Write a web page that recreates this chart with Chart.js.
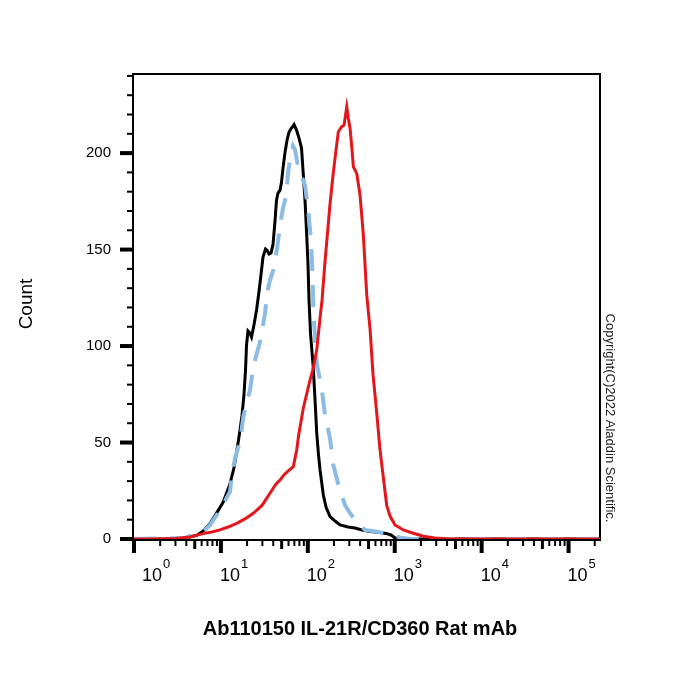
<!DOCTYPE html>
<html><head><meta charset="utf-8">
<script src="https://cdn.jsdelivr.net/npm/chart.js@4.4.1/dist/chart.umd.min.js"></script>
<style>html,body{margin:0;padding:0;background:#fff;}canvas{display:block;}</style>
</head><body>
<canvas id="c" width="700" height="700"></canvas>
<script>
// ---- data (fluorescence intensity, count) ----
const stainedCurve = [[1,0],[2,0],[3,0.3],[4.4,1],[6.2,2.8],[7.9,3.6],[9.75,4.7],[12.1,6.2],[15.2,8.1],[18.9,10.4],[23.6,13.3],[29.7,17.4],[36.7,23.7],[43.1,28.5],[47.9,30.6],[53.2,33.2],[59.2,35.2],[68.1,37.5],[74.5,46.1],[78.2,53.4],[88.8,67.9],[106,82.4],[115.6,88.6],[126.6,97.9],[138.2,114.5],[145.7,123.8],[157.7,143.8],[180,173.6],[195,188.6],[205.6,197.4],[224.4,211.1],[245.5,213.7],[261,214.5],[271.6,219.7],[280.5,224],[292.6,218.1],[306.1,212.8],[322.8,201.6],[334.2,192.9],[365.6,189.5],[399,178.2],[435.5,157.5],[476.4,126.4],[520.3,108.8],[562.3,85.5],[620.8,65.3],[677.4,46.1],[733.4,33.2],[808.3,17.4],[883,11.9],[1007,7.3],[1256,4.7],[1637,3],[2133,1.4],[2911,0.5],[4325,0],[230000,0]];
const isotypeCurve = [[1,0],[3.86,0.5],[4.41,1.55],[5.31,2.33],[6.22,3.78],[7.49,7.25],[9.26,13.5],[10.86,18.7],[12.7,24.5],[13.42,33.2],[14.53,42],[16.6,50.4],[18.1,63.4],[19.8,70.5],[21.6,77.2],[23.6,89.3],[25.8,95.9],[28.2,102.2],[30.5,110.9],[32.2,116.9],[34.2,128.1],[36.7,134.2],[40.1,139.4],[44.6,151.5],[47.9,162.7],[51.8,171.5],[56.1,177.4],[59.7,191.2],[62.4,196.4],[67.6,203.6],[71.3,201.6],[77.8,192.1],[84.6,188.1],[92.8,183.4],[101.4,169.6],[107.4,157.5],[111.7,143.5],[114.7,129],[116.3,116.1],[121.1,104.8],[126.6,91],[144.5,78.1],[157.7,64.2],[180,52.2],[196.5,38.3],[230.1,26.3],[268,17.6],[306.1,13.3],[368.3,8.8],[455,4.7],[620.8,3.8],[883,2.1],[1151,0.8],[1500,0],[230000,0]];
const blankCurve = [[1,0],[3.4,0],[4.4,1],[5.3,2],[6.2,4],[7.5,8],[8.8,13],[10.6,19],[12.7,28.5],[14.2,37.3],[15.3,46.1],[16.6,56.5],[17.5,64.2],[18.4,74.6],[19.2,87.6],[19.7,100.5],[20.5,107.8],[21.6,106.7],[22.5,104.7],[24,110.9],[25.7,118.7],[27.4,128],[28.9,136.8],[30.5,146.1],[32.6,150.3],[33.9,149.7],[35.8,147.7],[37.7,148.2],[39.8,152.8],[42,165.3],[43.6,175.6],[45.4,179.3],[47.9,180.8],[49.8,185],[51.8,192.2],[54.7,200.5],[57.6,206.7],[60.8,210.9],[64.9,213],[69.4,214.8],[74.1,211.9],[79.2,207.8],[84.6,202.6],[88.8,188.6],[92.8,175.6],[97.1,157.5],[100.5,142],[103.2,123.8],[107.4,106.5],[115.6,88.6],[121.1,72],[126.6,54.9],[132.8,43.5],[138.2,35.8],[150.8,22.8],[161.9,16.6],[180,11.6],[205.6,9.3],[234.8,7.3],[290,6.2],[349,5.7],[421,4.7],[520,3.9],[677,3.4],[794,2.9],[906,2.1],[1007,0.5],[1150,0],[230000,0]];

const yTicks = [0,10,20,30,40,50,60,70,80,90,100,110,120,130,140,150,160,170,180,190,200,210,220,230,240];
const yTickLabels = ['0','50','100','150','200'];
const yLabelValues = [0,50,100,150,200];
const xDecades = [0,1,2,3,4,5];
const xMin = 1, xMax = 230000, yMin = 0, yMax = 241;
const xTitle = 'Ab110150 IL-21R/CD360 Rat mAb';
const yTitle = 'Count';
const copyrightText = 'Copyright(C)2022 Aladdin Scientific.';

const toPts = arr => arr.map(p => ({x:p[0], y:p[1]}));

const FONT = '"Liberation Sans", Arial, Helvetica, sans-serif';

const flowAxes = {
  id:'flowAxes',
  beforeDatasetsDraw(chart){
    const {ctx, chartArea:a} = chart;
    ctx.save();
    ctx.strokeStyle = '#000';
    ctx.lineWidth = 2;
    ctx.strokeRect(a.left-1, a.top, a.right-a.left+1, a.bottom-a.top+1);
    ctx.restore();
  },
  afterDraw(chart){
    const {ctx, chartArea:a, scales} = chart;
    const xs = scales.x, ys = scales.y;
    ctx.save();
    ctx.fillStyle = '#000';
    // y ticks
    yTicks.forEach(v => {
      const py = ys.getPixelForValue(v);
      const major = v % 50 === 0;
      const len = major ? 13 : 6, w = major ? 4 : 2;
      ctx.fillRect(a.left-1-len, py - w/2, len, w);
    });
    ctx.font = '15px ' + FONT;
    ctx.textAlign = 'right';
    ctx.textBaseline = 'middle';
    yLabelValues.forEach((v,i) => {
      ctx.fillText(yTickLabels[i], 111, ys.getPixelForValue(v));
    });
    // x ticks
    const base = a.bottom + 1;
    xDecades.forEach(n => {
      for (let k=1;k<=9;k++){
        const v = k*Math.pow(10,n);
        if (v > xMax) break;
        const px = xs.getPixelForValue(v);
        let len = 6, w = 2;
        if (k===1){ len = 13; w = 4; }
        else if (k===5){ len = 9; w = 3; }
        ctx.fillRect(px - w/2, base, w, len);
      }
    });
    // x labels 10^n
    xDecades.forEach(n => {
      const px = xs.getPixelForValue(Math.pow(10,n)) + (n===0 ? 8 : -1);
      ctx.textAlign = 'left';
      ctx.textBaseline = 'alphabetic';
      ctx.font = '18px ' + FONT;
      ctx.fillText('10', px, 581);
      const w = ctx.measureText('10').width;
      ctx.font = '13px ' + FONT;
      ctx.fillText(String(n), px + w + 1, 568);
    });
    // axis titles
    ctx.font = 'bold 20px ' + FONT;
    ctx.textAlign = 'center';
    ctx.textBaseline = 'alphabetic';
    ctx.fillText(xTitle, 360, 635);
    ctx.save();
    ctx.translate(27, 304);
    ctx.rotate(-Math.PI/2);
    ctx.font = '19px ' + FONT;
    ctx.textBaseline = 'middle';
    ctx.fillText(yTitle, 0, 0);
    ctx.restore();
    ctx.save();
    ctx.translate(610, 418);
    ctx.rotate(Math.PI/2);
    ctx.font = '13px ' + FONT;
    ctx.fillStyle = '#222';
    ctx.textAlign = 'center';
    ctx.textBaseline = 'middle';
    ctx.fillText(copyrightText, 0, 0);
    ctx.restore();
    ctx.restore();
  }
};

new Chart(document.getElementById('c'), {
  type:'line',
  data:{datasets:[
    {label:'Stained', data:toPts(stainedCurve), borderColor:'#e3161b', borderWidth:3, pointRadius:0, tension:0, fill:false},
    {label:'Isotype', data:toPts(isotypeCurve), borderColor:'#8cbbe5', borderWidth:4, borderDash:[22,14], pointRadius:0, tension:0, fill:false},
    {label:'Blank', data:toPts(blankCurve), borderColor:'#000000', borderWidth:3, pointRadius:0, tension:0, fill:false}
  ]},
  options:{
    responsive:false, animation:false, devicePixelRatio:1,
    layout:{padding:{left:134, top:74, right:100, bottom:161}},
    scales:{
      x:{type:'logarithmic', min:xMin, max:xMax, display:false},
      y:{type:'linear', min:yMin, max:yMax, display:false}
    },
    plugins:{legend:{display:false}, tooltip:{enabled:false}}
  },
  plugins:[flowAxes]
});
</script>
</body></html>
